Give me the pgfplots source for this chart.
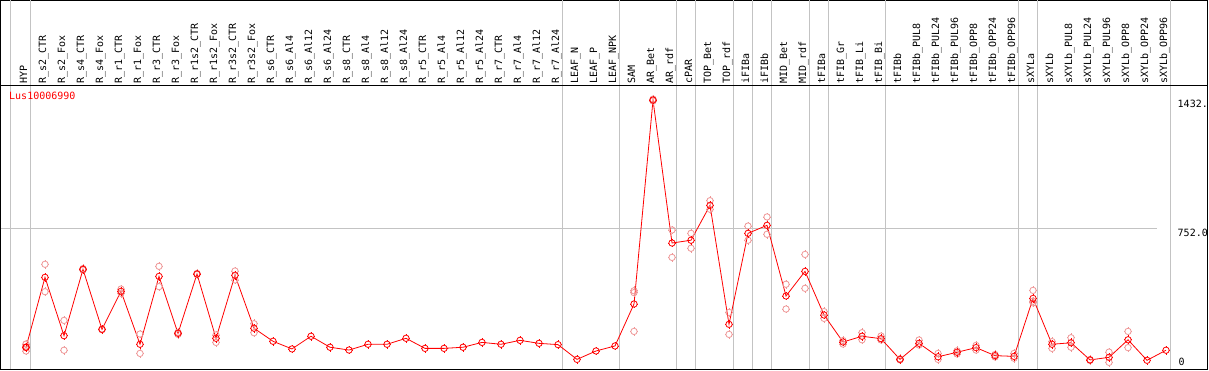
\documentclass[border=0pt]{standalone}
\usepackage{pgfplots}
\pgfplotsset{compat=1.18}
\usepackage{pgfplotstable}
\usepackage{fontspec}
\newfontfamily\monof{DejaVu Sans Mono}
\definecolor{mred}{RGB}{255,0,0}
\definecolor{rpink}{RGB}{238,150,150}
\definecolor{sepgray}{RGB}{195,195,195}

\pgfdeclareplotmark{nubo}{%
  \pgfpathcircle{\pgfpointorigin}{\pgfplotmarksize}%
  \pgfusepathqstroke
  \pgfsetlinewidth{0.8pt}%
  \pgfpathmoveto{\pgfpoint{\pgfplotmarksize}{0pt}}\pgfpathlineto{\pgfpoint{\pgfplotmarksize+1.2pt}{0pt}}%
  \pgfpathmoveto{\pgfpoint{-\pgfplotmarksize}{0pt}}\pgfpathlineto{\pgfpoint{-\pgfplotmarksize-1.2pt}{0pt}}%
  \pgfpathmoveto{\pgfpoint{0pt}{\pgfplotmarksize}}\pgfpathlineto{\pgfpoint{0pt}{\pgfplotmarksize+1.2pt}}%
  \pgfpathmoveto{\pgfpoint{0pt}{-\pgfplotmarksize}}\pgfpathlineto{\pgfpoint{0pt}{-\pgfplotmarksize-1.2pt}}%
  \pgfusepathqstroke}

\pgfplotstableread{
x y
0 113.7
1 489
2 176
3 532
4 210
5 414
6 130
7 494
8 189
9 507
10 162
11 500
12 216
13 146
14 105
15 173
16 114
17 99
18 130
19 130
20 162
21 108
22 108
23 114
24 140
25 130
26 151
27 135
28 128
29 49
30 94
31 121
32 346
33 1440
34 673
35 688
36 875
37 237
38 725
39 768
40 389
41 521
42 287
43 142
44 173
45 160
46 49
47 135
48 63
49 87
50 112
51 69
52 65
53 376
54 130
55 138
56 46
57 60
58 154
59 44
60 98
}\meantable

\pgfplotstableread{
x y
0 131
0 94
1 559
1 412
2 258
2 98
3 536
3 528
4 212
4 208
5 426
5 404
6 185
6 81
7 548
7 439
8 194
8 183
9 510
9 504
10 180
10 140
11 523
11 475
12 240
12 192
32 417
32 407
32 199
33 1445
33 1435
34 743
34 596
35 725
35 645
36 900
36 854
37 301
37 183
38 764
38 688
39 813
39 720
40 452
40 319
41 612
41 430
42 305
42 269
43 150
43 131
44 192
44 154
45 174
45 153
46 52
46 46
47 153
47 126
48 81
48 49
49 95
49 78
50 124
50 99
51 75
51 62
52 81
52 55
53 419
53 361
53 352
54 144
54 108
55 165
55 114
56 48
56 43
57 88
57 33
58 199
58 112
}\reptable

\begin{document}
\begin{tikzpicture}
\useasboundingbox (0,0) rectangle (1209pt,370pt);
\begin{axis}[
  at={(1pt,1pt)}, anchor=south west,
  scale only axis, width=1206pt, height=368.5pt,
  xmin=-1.3158, xmax=62.1579, ymin=-2.68, ymax=1973.8,
  xtick=\empty, ytick=\empty,
  axis line style={black, line width=1pt},
  clip=true,
]
% horizontal grid line at 752
\draw[sepgray, line width=1pt] (axis cs:-1.3158,752) -- (axis cs:59.5,752);
% group separators
\foreach \s in {-0.83,0.24,28.23,31.23,34.24,35.24,37.23,38.24,39.24,41.23,42.24,45.24,52.23,53.23,60.21}{
  \edef\temp{\noexpand\draw[sepgray, line width=1pt] (axis cs:\s,-2.68) -- (axis cs:\s,1973.8);}
  \temp
}
% label area separator
\draw[black, line width=1pt] (axis cs:-1.3158,1517.9) -- (axis cs:62.1579,1517.9);
\addplot[only marks, mark=nubo, mark size=3.2pt, mark options={draw=rpink, line width=1pt}] table[x=x,y=y]{\reptable};
\addplot[mred, line width=0.8pt, mark=nubo, mark size=3.2pt, mark options={draw=mred, line width=1.3pt}] table[x=x,y=y]{\meantable};
\end{axis}
% category labels
\foreach \lab [count=\i from 0] in {HYP,R\_s2\_CTR,R\_s2\_Fox,R\_s4\_CTR,R\_s4\_Fox,R\_r1\_CTR,R\_r1\_Fox,R\_r3\_CTR,R\_r3\_Fox,R\_r1s2\_CTR,R\_r1s2\_Fox,R\_r3s2\_CTR,R\_r3s2\_Fox,R\_s6\_CTR,R\_s6\_Al4,R\_s6\_Al12,R\_s6\_Al24,R\_s8\_CTR,R\_s8\_Al4,R\_s8\_Al12,R\_s8\_Al24,R\_r5\_CTR,R\_r5\_Al4,R\_r5\_Al12,R\_r5\_Al24,R\_r7\_CTR,R\_r7\_Al4,R\_r7\_Al12,R\_r7\_Al24,LEAF\_N,LEAF\_P,LEAF\_NPK,SAM,AR\_Bet,AR\_rdf,cPAR,TOP\_Bet,TOP\_rdf,iFIBa,iFIBb,MID\_Bet,MID\_rdf,tFIBa,tFIB\_Gr,tFIB\_Li,tFIB\_Bi,tFIBb,tFIBb\_PUL8,tFIBb\_PUL24,tFIBb\_PUL96,tFIBb\_OPP8,tFIBb\_OPP24,tFIBb\_OPP96,sXYLa,sXYLb,sXYLb\_PUL8,sXYLb\_PUL24,sXYLb\_PUL96,sXYLb\_OPP8,sXYLb\_OPP24,sXYLb\_OPP96}{
  \node[rotate=90, anchor=base west, inner sep=0pt, font=\monof\fontsize{10}{12}\selectfont] at ({27pt+19pt*\i}, 286.5pt) {\lab};
}
\node[anchor=base west, inner sep=0pt, text=mred, font=\monof\fontsize{10}{12}\selectfont] at (9pt, 270.7pt) {Lus10006990};
\node[anchor=base west, inner sep=0pt, font=\monof\fontsize{10}{12}\selectfont] at (1177.5pt, 262.3pt) {1432.};
\node[anchor=base west, inner sep=0pt, fill=white, font=\monof\fontsize{10}{12}\selectfont] at (1177.5pt, 134pt) {752.0};
\node[anchor=base west, inner sep=0pt, font=\monof\fontsize{10}{12}\selectfont] at (1178.5pt, 4.7pt) {0};
\draw[black, line width=1pt] (1207pt,1pt) -- (1207pt,370pt);
\end{tikzpicture}
\end{document}
